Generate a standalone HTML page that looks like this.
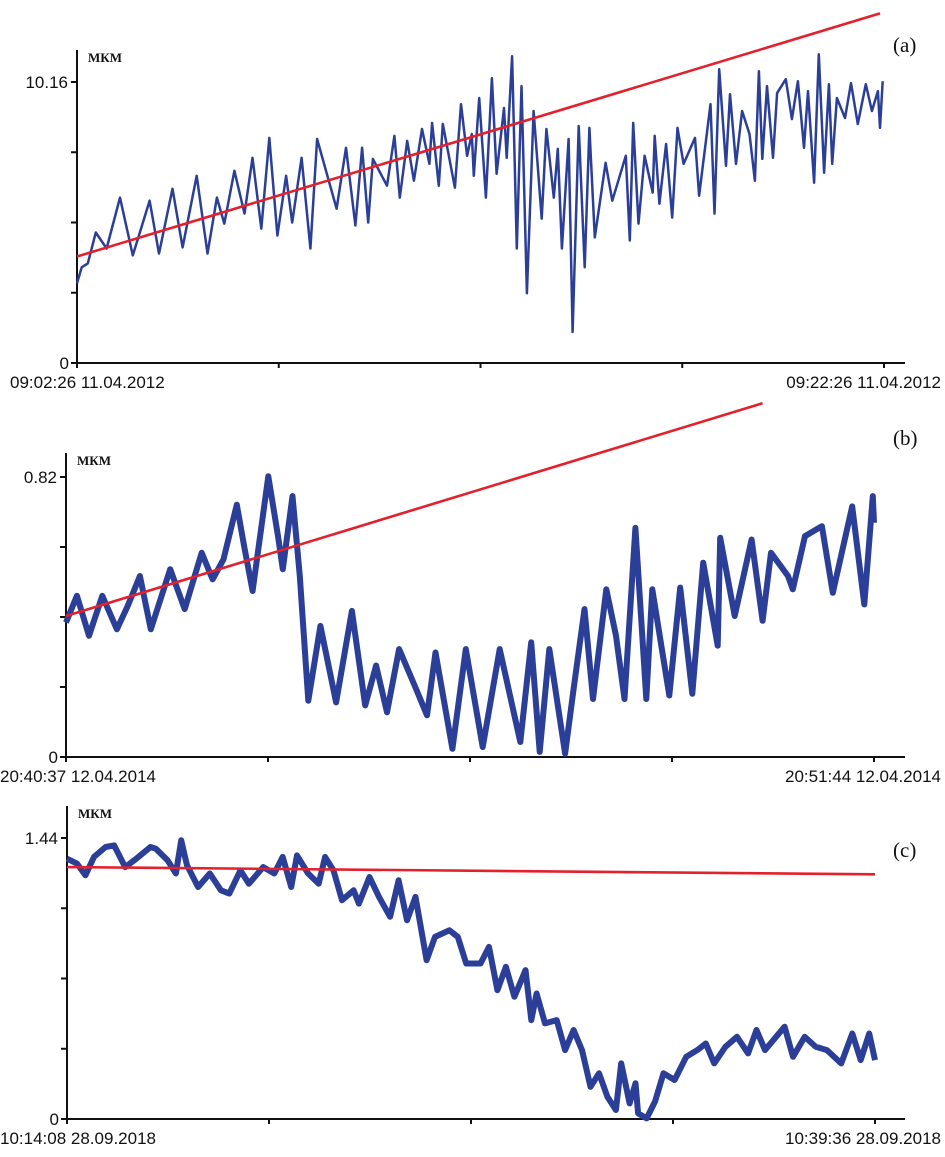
<!DOCTYPE html>
<html><head><meta charset="utf-8">
<style>
html,body{margin:0;padding:0;background:#fff;}
svg{display:block;}
text{font-family:"Liberation Sans",sans-serif;fill:#111;}
.unit{font-family:"Liberation Serif",serif;font-weight:bold;font-size:13px;}
.lbl{font-family:"Liberation Serif",serif;font-size:21px;}
.tk{font-size:17px;}
</style></head>
<body>
<svg id="chart" width="945" height="1157" viewBox="0 0 945 1157" xmlns="http://www.w3.org/2000/svg"></svg>
<script>
// Panel (a)
const aTime=[0,7,16,28,44,64,83,108,122,142,157,178,194,208,219,234,249,261,274,286,298,311,320,334,347,357,386,400,414,424,433,440,461,472,480,491,501,513,524,528,538,544,562,571,580,587,590,598,608,617,624,635,639,647,654,661,669,679,691,698,709,715,721,731,737,746,755,762,770,786,796,816,822,827,835,844,856,859,866,876,885,893,902,919,925,942,948,955,965,971,980,989,1000,1008,1014,1019,1026,1035,1041,1054,1063,1072,1081,1087,1096,1103,1111,1118,1123,1130,1142,1151,1161,1173,1182,1191,1194,1198];
const aVals=[2.88,3.46,3.60,4.72,4.14,5.98,3.89,5.87,3.96,6.30,4.18,6.77,3.96,5.98,5.04,6.95,5.40,7.42,4.86,8.14,4.61,6.77,5.08,7.42,4.14,8.10,5.58,7.78,4.97,7.78,5.08,7.38,6.41,8.21,5.98,8.03,6.59,8.46,7.20,8.68,6.41,8.64,6.34,9.36,7.49,8.28,6.77,9.58,5.98,10.30,6.84,9.22,7.42,11.09,4.14,10.01,2.52,9.11,5.22,8.46,5.98,7.74,4.14,8.10,1.12,8.57,3.46,8.50,4.54,7.24,5.87,7.49,4.43,8.68,5.04,7.49,6.16,8.21,5.76,7.92,5.26,8.50,7.20,8.14,6.05,9.36,5.40,10.62,7.13,9.72,7.20,9.11,8.28,6.59,10.55,7.38,10.01,7.42,9.76,10.26,8.82,10.19,7.78,9.83,6.52,11.16,6.88,10.08,7.20,9.58,8.86,10.12,8.64,10.08,9.11,9.83,8.50,10.19];
const aTrendT=[0,1194];
const aTrendV=[3.85,12.64];
// Panel (b)
const bTime=[0,9,19,30,42,51,61,70,86,98,112,121,130,141,147,154,167,175,179,187,193,200,210,223,236,247,256,265,275,289,298,305,319,330,344,358,375,384,391,399,412,419,428,435,446,454,461,470,479,484,498,507,517,526,538,540,552,566,575,582,596,600,610,624,633,649,659,666,667];
const bVals=[0.394,0.472,0.355,0.472,0.374,0.443,0.530,0.374,0.550,0.433,0.598,0.520,0.579,0.739,0.618,0.486,0.822,0.647,0.550,0.764,0.530,0.165,0.384,0.160,0.428,0.151,0.268,0.131,0.316,0.199,0.122,0.306,0.024,0.316,0.029,0.316,0.044,0.336,0.015,0.316,0.010,0.199,0.433,0.170,0.491,0.355,0.170,0.671,0.170,0.491,0.180,0.496,0.185,0.569,0.326,0.642,0.413,0.637,0.399,0.598,0.530,0.491,0.647,0.676,0.481,0.734,0.447,0.764,0.686];
const bTrendT=[0,575];
const bTrendV=[0.413,1.036];
// Panel (c)
const cTime=[0,19,35,51,73,89,110,131,158,168,190,206,216,227,248,270,291,307,328,344,371,392,408,424,435,456,476,488,504,520,542,552,572,590,611,627,643,659,680,696,723,739,755,782,798,814,830,846,867,878,888,904,926,942,958,974,990,1006,1022,1038,1048,1064,1075,1080,1096,1112,1128,1149,1171,1192,1208,1224,1245,1267,1288,1304,1320,1341,1357,1373,1395,1416,1437,1464,1485,1501,1517,1528];
const cVals=[1.334,1.309,1.249,1.343,1.394,1.402,1.291,1.334,1.394,1.385,1.326,1.258,1.428,1.300,1.189,1.258,1.172,1.155,1.274,1.206,1.291,1.258,1.343,1.189,1.351,1.258,1.206,1.343,1.274,1.121,1.172,1.104,1.240,1.138,1.036,1.223,1.018,1.138,0.814,0.933,0.967,0.933,0.797,0.797,0.882,0.660,0.780,0.626,0.763,0.507,0.643,0.490,0.507,0.353,0.456,0.353,0.165,0.234,0.114,0.046,0.285,0.080,0.183,0.029,0.003,0.089,0.234,0.200,0.319,0.353,0.387,0.285,0.370,0.421,0.336,0.456,0.353,0.421,0.473,0.319,0.421,0.370,0.353,0.285,0.438,0.302,0.438,0.302];
const cTrendT=[0,1528];
const cTrendV=[1.291,1.254];

const NS="http://www.w3.org/2000/svg";
const svg=document.getElementById('chart');
function mk(tag,attrs,parent){const e=document.createElementNS(NS,tag);for(const k in attrs)e.setAttribute(k,attrs[k]);(parent||svg).appendChild(e);return e;}

function panel(p){
  const g=mk('g',{});
  
  
  const xs=t=>p.x0+(t/p.tMax)*(p.x1-p.x0);
  const ys=v=>p.y0-(v/p.vMax)*(p.y0-p.yMax);
  const ya=mk('line',{x1:p.x0,y1:p.yTop,x2:p.x0,y2:p.y0+1,stroke:'#111','stroke-width':2},g);
  
  
  const xa=mk('line',{x1:p.x0-1,y1:p.y0,x2:p.xEnd,y2:p.y0,stroke:'#111','stroke-width':2},g);
  
  
  for(let i=0;i<=4;i++){
    const y=p.y0-(p.y0-p.yMax)*i/4;
    mk('line',{x1:p.x0-6,y1:y,x2:p.x0,y2:y,stroke:'#111','stroke-width':2},g);
    const x=p.x0+(p.x1-p.x0)*i/4;
    mk('line',{x1:x,y1:p.y0,x2:x,y2:p.y0+5,stroke:'#111','stroke-width':2},g);
  }
  const t1=mk('text',{x:p.x0-9,y:p.yMax+6,'text-anchor':'end',class:'tk'},g);t1.textContent=p.maxLabel;
  
  
  const t0=mk('text',{x:p.x0-8,y:p.y0+6,'text-anchor':'end',class:'tk'},g);t0.textContent='0';
  
  
  const u=mk('text',{x:p.x0+11,y:p.yTop+12,class:'unit'},g);u.textContent='МКМ';
  
  
  const l1=mk('text',{x:p.lx,y:p.y0+25,class:'tk'},g);l1.textContent=p.startLabel;
  
  
  const l2=mk('text',{x:941,y:p.y0+25,'text-anchor':'end',class:'tk'},g);l2.textContent=p.endLabel;
  
  
  const pl=mk('text',{x:893,y:p.labY,class:'lbl'},g);pl.textContent='('+p.id+')';
  
  
  let d='';
  p.t.forEach((t,i)=>{d+=(i?'L':'M')+xs(t).toFixed(1)+','+ys(p.v[i]).toFixed(1);});
  const s=mk('path',{d:d,fill:'none',stroke:'#2b3f98','stroke-width':p.sw,'stroke-linejoin':'round'},g);
  
  
  const r=mk('line',{x1:xs(p.rt[0]),y1:ys(p.rv[0]),x2:xs(p.rt[1]),y2:ys(p.rv[1]),stroke:'#e3202b','stroke-width':2.6},g);
  
  
}
panel({id:'a',x0:77,x1:884,xEnd:905,y0:363,yMax:82,yTop:50,tMax:1200,vMax:10.16,t:aTime,v:aVals,rt:aTrendT,rv:aTrendV,sw:2.5,maxLabel:'10.16',startLabel:'09:02:26 11.04.2012',endLabel:'09:22:26 11.04.2012',lx:10,labY:52});
panel({id:'b',x0:66,x1:874,xEnd:905,y0:757,yMax:477,yTop:453,tMax:667,vMax:0.82,t:bTime,v:bVals,rt:bTrendT,rv:bTrendV,sw:6,maxLabel:'0.82',startLabel:'20:40:37 12.04.2014',endLabel:'20:51:44 12.04.2014',lx:0,labY:445});
panel({id:'c',x0:67,x1:875,xEnd:905,y0:1119,yMax:838,yTop:806,tMax:1528,vMax:1.44,t:cTime,v:cVals,rt:cTrendT,rv:cTrendV,sw:6,maxLabel:'1.44',startLabel:'10:14:08 28.09.2018',endLabel:'10:39:36 28.09.2018',lx:0,labY:857});
</script>
</body></html>
